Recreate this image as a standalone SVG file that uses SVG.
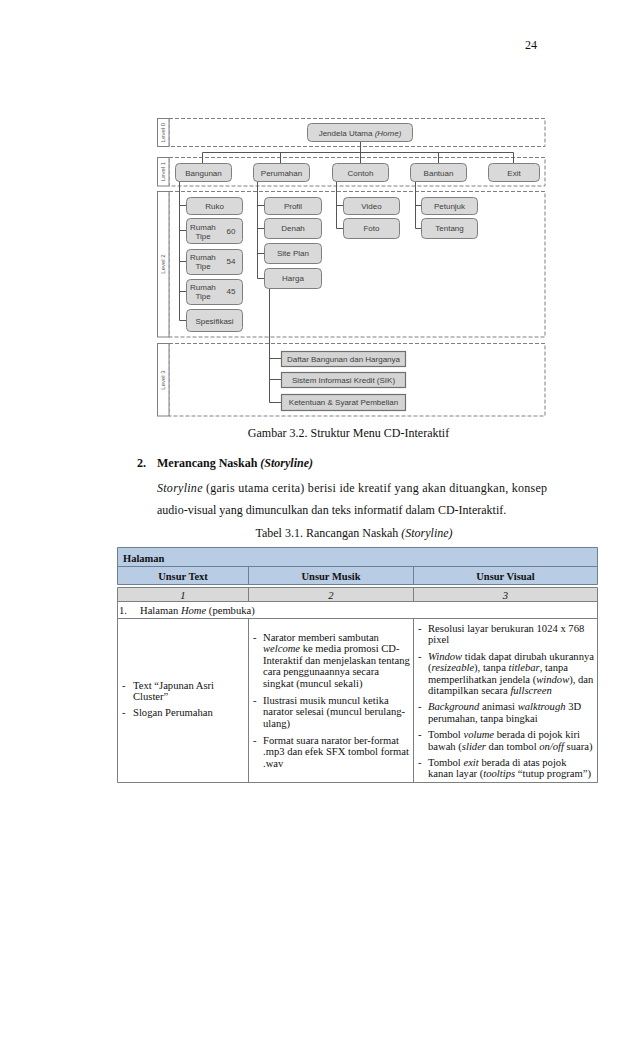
<svg xmlns="http://www.w3.org/2000/svg" width="638" height="1051" viewBox="0 0 638 1051">
<style>
.lvl{fill:none;stroke:#808080;stroke-width:1;stroke-dasharray:4 2}
.lbl{fill:#fff;stroke:#808080;stroke-width:1}
.lt{font-family:"Liberation Sans",Arial,sans-serif;font-size:6px;fill:#555;text-anchor:middle}
.box{fill:#d9d9d9;stroke:#7f7f7f;stroke-width:1}
.sq{fill:#d4d4d4;stroke:#6f6f6f;stroke-width:1.2}
.bt{font-family:"Liberation Sans",Arial,sans-serif;font-size:8px;fill:#404040;text-anchor:middle}
.bl{font-family:"Liberation Sans",Arial,sans-serif;font-size:8px;fill:#404040}
.con{stroke:#555;stroke-width:1;fill:none}
.tx{font-family:"Liberation Serif","Times New Roman",serif;font-size:12px;fill:#111}
.tb{font-family:"Liberation Serif","Times New Roman",serif;font-size:10.6px;fill:#111}
.th{font-family:"Liberation Serif","Times New Roman",serif;font-size:10.5px;font-weight:bold;fill:#111}
.c{text-anchor:middle}
.i{font-style:italic}
.grid{stroke:#7f7f7f;stroke-width:1;fill:none}
.hgrid{stroke:#6d7f95;stroke-width:1;fill:none}
</style>

<text class="tx" x="537" y="49" text-anchor="end">24</text>

<!-- Level frames -->
<g id="levels">
  <rect class="lvl" x="169" y="118.5" width="376" height="28"/>
  <rect class="lbl" x="157.5" y="118.5" width="11.5" height="28"/>
  <text class="lt" transform="translate(165.2,132.5) rotate(-90)">Level 0</text>
  <rect class="lvl" x="169" y="157.5" width="376" height="28.5"/>
  <rect class="lbl" x="157.5" y="157.5" width="11.5" height="28.5"/>
  <text class="lt" transform="translate(165.2,171.5) rotate(-90)">Level 1</text>
  <rect class="lvl" x="169" y="191.5" width="376" height="145.5"/>
  <rect class="lbl" x="157.5" y="191.5" width="11.5" height="145.5"/>
  <text class="lt" transform="translate(165.2,264) rotate(-90)">Level 2</text>
  <rect class="lvl" x="169" y="343.5" width="376" height="72.5"/>
  <rect class="lbl" x="157.5" y="343.5" width="11.5" height="72.5"/>
  <text class="lt" transform="translate(165.2,380) rotate(-90)">Level 3</text>
</g>

<!-- Connectors -->
<g id="connectors">
  <path class="con" d="M360.5 141V152.5M202.5 152.5H513.5M202.5 152.5V163M280.5 152.5V163M360.5 152.5V163M438.5 152.5V163M513.5 152.5V163"/>
  <path class="con" d="M179.5 181V320.5M179.5 205.5H186M179.5 230.5H186M179.5 261.5H186M179.5 291.5H186M179.5 320.5H186"/>
  <path class="con" d="M257.5 181V278.5M257.5 205.5H264M257.5 228.5H264M257.5 253.5H264M257.5 278.5H264"/>
  <path class="con" d="M336.5 181V228.5M336.5 205.5H343M336.5 228.5H343"/>
  <path class="con" d="M415.5 181V228.5M415.5 205.5H421M415.5 228.5H421"/>
  <path class="con" d="M269.5 288V402.5M269.5 358.5H281M269.5 379.5H281M269.5 402.5H281"/>
</g>

<!-- Nodes -->
<g id="n-home"><rect class="box" x="307.5" y="123.5" width="105" height="18" rx="4"/><text class="bt" x="360" y="135.5">Jendela Utama <tspan class="i">(Home)</tspan></text></g>

<g id="n-bangunan"><rect class="box" x="175.5" y="163.5" width="56" height="18" rx="4"/><text class="bt" x="203.5" y="175.5">Bangunan</text></g>
<g id="n-perumahan"><rect class="box" x="253.5" y="163.5" width="56" height="18" rx="4"/><text class="bt" x="281.5" y="175.5">Perumahan</text></g>
<g id="n-contoh"><rect class="box" x="332.5" y="163.5" width="56" height="18" rx="4"/><text class="bt" x="360.5" y="175.5">Contoh</text></g>
<g id="n-bantuan"><rect class="box" x="410.5" y="163.5" width="56" height="18" rx="4"/><text class="bt" x="438.5" y="175.5">Bantuan</text></g>
<g id="n-exit"><rect class="box" x="488.5" y="163.5" width="51" height="18" rx="4"/><text class="bt" x="514" y="175.5">Exit</text></g>

<g id="n-ruko"><rect class="box" x="186.5" y="197.5" width="56" height="17" rx="4"/><text class="bt" x="214.5" y="208.5">Ruko</text></g>
<g id="n-rt60"><rect class="box" x="186.5" y="218.5" width="56" height="25" rx="4"/><text class="bl" x="190" y="229.5">Rumah</text><text class="bl" x="195.5" y="238.5">Tipe</text><text class="bl" x="226.5" y="234">60</text></g>
<g id="n-rt54"><rect class="box" x="186.5" y="249.5" width="56" height="25" rx="4"/><text class="bl" x="190" y="259.5">Rumah</text><text class="bl" x="195.5" y="268.5">Tipe</text><text class="bl" x="226.5" y="264">54</text></g>
<g id="n-rt45"><rect class="box" x="186.5" y="279.5" width="56" height="25" rx="4"/><text class="bl" x="190" y="289.5">Rumah</text><text class="bl" x="195.5" y="298.5">Tipe</text><text class="bl" x="226.5" y="294">45</text></g>
<g id="n-spesifikasi"><rect class="box" x="186.5" y="309.5" width="56" height="22" rx="4"/><text class="bt" x="214.5" y="323.5">Spesifikasi</text></g>

<g id="n-profil"><rect class="box" x="264.5" y="197.5" width="57" height="17" rx="4"/><text class="bt" x="293" y="208.5">Profil</text></g>
<g id="n-denah"><rect class="box" x="264.5" y="218.5" width="57" height="20" rx="4"/><text class="bt" x="293" y="231">Denah</text></g>
<g id="n-siteplan"><rect class="box" x="264.5" y="243.5" width="57" height="20" rx="4"/><text class="bt" x="293" y="256">Site Plan</text></g>
<g id="n-harga"><rect class="box" x="264.5" y="268.5" width="57" height="20" rx="4"/><text class="bt" x="293" y="281">Harga</text></g>

<g id="n-video"><rect class="box" x="343.5" y="197.5" width="56" height="17" rx="4"/><text class="bt" x="371.5" y="208.5">Video</text></g>
<g id="n-foto"><rect class="box" x="343.5" y="218.5" width="56" height="20" rx="4"/><text class="bt" x="371.5" y="231">Foto</text></g>

<g id="n-petunjuk"><rect class="box" x="421.5" y="197.5" width="56" height="17" rx="4"/><text class="bt" x="449.5" y="208.5">Petunjuk</text></g>
<g id="n-tentang"><rect class="box" x="421.5" y="218.5" width="56" height="20" rx="4"/><text class="bt" x="449.5" y="231">Tentang</text></g>

<g id="n-daftar"><rect class="sq" x="281.5" y="351.5" width="124" height="15"/><text class="bt" x="343.5" y="361.8" font-size="7.5">Daftar Bangunan dan Harganya</text></g>
<g id="n-sik"><rect class="sq" x="281.5" y="372.5" width="124" height="15"/><text class="bt" x="343.5" y="382.8" font-size="7.5">Sistem Informasi Kredit (SIK)</text></g>
<g id="n-ketentuan"><rect class="sq" x="281.5" y="394.5" width="124" height="16"/><text class="bt" x="343.5" y="405.3" font-size="7.5">Ketentuan &amp; Syarat Pembelian</text></g>

<!-- Body text -->
<text class="tx c" x="348.5" y="437">Gambar 3.2. Struktur Menu CD-Interaktif</text>
<text class="tx" x="137" y="467" font-weight="bold">2.</text>
<text class="tx" x="157" y="467" font-weight="bold">Merancang Naskah <tspan class="i">(Storyline)</tspan></text>
<text class="tx" x="157" y="492" textLength="390" lengthAdjust="spacing"><tspan class="i">Storyline</tspan> (garis utama cerita) berisi ide kreatif yang akan dituangkan, konsep</text>
<text class="tx" x="157" y="514">audio-visual yang dimunculkan dan teks informatif dalam CD-Interaktif.</text>
<text class="tx c" x="354" y="537">Tabel 3.1. Rancangan Naskah <tspan class="i">(Storyline)</tspan></text>

<!-- Table -->
<g id="table">
  <rect x="117.5" y="547.5" width="480" height="37" fill="#b8cce4"/>
  <rect x="117.5" y="587.5" width="480" height="14" fill="#d9d9d9"/>
  <path class="hgrid" d="M117.5 547.5H597.5M117.5 566.5H597.5M117.5 584.5H597.5M117.5 547.5V584.5M597.5 547.5V584.5M248.5 566.5V584.5M413.5 566.5V584.5"/>
  <path class="grid" d="M117.5 587.5H597.5M117.5 601.5H597.5M117.5 618.5H597.5M117.5 782.5H597.5"/>
  <path class="grid" d="M117.5 587.5V782.5M597.5 587.5V782.5"/>
  <path class="grid" d="M248.5 587.5V601.5M413.5 587.5V601.5M248.5 618.5V782.5M413.5 618.5V782.5"/>

  <text class="th" x="123" y="562">Halaman</text>
  <text class="th c" x="183" y="579.5">Unsur Text</text>
  <text class="th c" x="331" y="579.5">Unsur Musik</text>
  <text class="th c" x="505.5" y="579.5">Unsur Visual</text>
  <text class="tb c i" x="183" y="598.5">1</text>
  <text class="tb c i" x="331" y="598.5">2</text>
  <text class="tb c i" x="505.5" y="598.5">3</text>
  <text class="tb" x="119" y="613.5">1.</text>
  <text class="tb" x="140" y="613.5">Halaman <tspan class="i">Home</tspan> (pembuka)</text>

  <g class="tb">
    <text x="122" y="688.5">-</text><text x="133" y="688.5">Text “Japunan Asri</text>
    <text x="133" y="700">Cluster”</text>
    <text x="122" y="715.5">-</text><text x="133" y="715.5">Slogan Perumahan</text>
  </g>

  <g class="tb">
    <text x="253" y="640.5">-</text><text x="263" y="640.5">Narator memberi sambutan</text>
    <text x="263" y="652"><tspan class="i">welcome</tspan> ke media promosi CD-</text>
    <text x="263" y="663.5">Interaktif dan menjelaskan tentang</text>
    <text x="263" y="675">cara penggunaannya secara</text>
    <text x="263" y="686.5">singkat (muncul sekali)</text>
    <text x="253" y="703.5">-</text><text x="263" y="703.5">Ilustrasi musik muncul ketika</text>
    <text x="263" y="715">narator selesai (muncul berulang-</text>
    <text x="263" y="726.5">ulang)</text>
    <text x="253" y="743.5">-</text><text x="263" y="743.5">Format suara narator ber-format</text>
    <text x="263" y="755">.mp3 dan efek SFX tombol format</text>
    <text x="263" y="766.5">.wav</text>
  </g>

  <g class="tb">
    <text x="418" y="631.5">-</text><text x="428" y="631.5">Resolusi layar berukuran 1024 x 768</text>
    <text x="428" y="643">pixel</text>
    <text x="418" y="659.5">-</text><text x="428" y="659.5"><tspan class="i">Window</tspan> tidak dapat dirubah ukurannya</text>
    <text x="428" y="671">(<tspan class="i">resizeable</tspan>), tanpa <tspan class="i">titlebar</tspan>, tanpa</text>
    <text x="428" y="682.5">memperlihatkan jendela (<tspan class="i">window</tspan>), dan</text>
    <text x="428" y="694">ditampilkan secara <tspan class="i">fullscreen</tspan></text>
    <text x="418" y="710">-</text><text x="428" y="710"><tspan class="i">Background</tspan> animasi <tspan class="i">walktrough</tspan> 3D</text>
    <text x="428" y="721.5">perumahan, tanpa bingkai</text>
    <text x="418" y="738">-</text><text x="428" y="738">Tombol <tspan class="i">volume</tspan> berada di pojok kiri</text>
    <text x="428" y="749.5">bawah (<tspan class="i">slider</tspan> dan tombol <tspan class="i">on/off</tspan> suara)</text>
    <text x="418" y="765.5">-</text><text x="428" y="765.5">Tombol <tspan class="i">exit</tspan> berada di atas pojok</text>
    <text x="428" y="777">kanan layar (<tspan class="i">tooltips</tspan> “tutup program”)</text>
  </g>
</g>
</svg>
